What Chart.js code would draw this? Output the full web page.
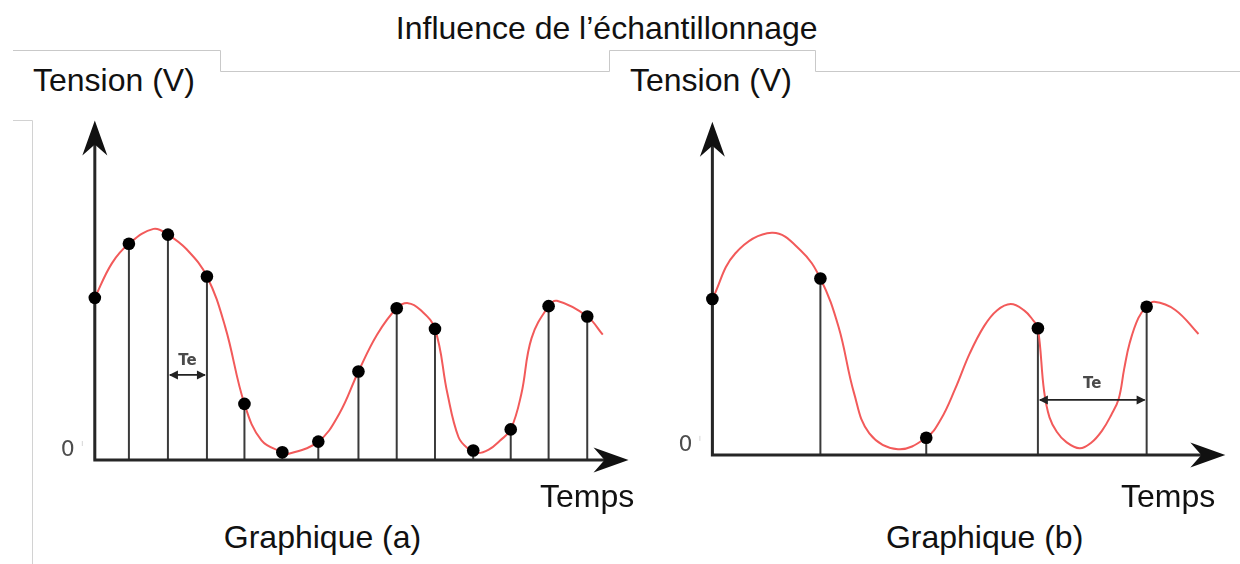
<!DOCTYPE html>
<html>
<head>
<meta charset="utf-8">
<script src="https://cdn.jsdelivr.net/npm/chart.js"></script>
<style>
  html, body { margin:0; padding:0; background:#fff; }
  body { width:1240px; height:564px; overflow:hidden; position:relative; }
  .txt { position:absolute; font-family:"Liberation Sans", Arial, sans-serif; font-size:32px; line-height:32px; color:#111; white-space:nowrap; }
  .ctr { transform:translateX(-50%); }
  .box { position:absolute; }
  svg { position:absolute; left:0; top:0; }
</style>
</head>
<body>
<svg width="1240" height="564">
  <polyline points="13,50.5 220.5,50.5 220.5,71.5 609.5,71.5 609.5,50.5 815.5,50.5 815.5,71.5 1240,71.5" fill="none" stroke="#c9c9c9" stroke-width="1"/>
  <polyline points="13,120.5 32.5,120.5 32.5,564" fill="none" stroke="#d2d2d2" stroke-width="1"/>
</svg>

<div class="txt ctr" style="left:606.7px;top:12.2px;">Influence de l’échantillonnage</div>
<div class="txt" style="left:33px;top:63.9px;">Tension (V)</div>
<div class="txt" style="left:630px;top:63.9px;">Tension (V)</div>

<div class="box" id="boxA"><canvas id="chartA"></canvas></div>
<div class="box" id="boxB"><canvas id="chartB"></canvas></div>

<div class="txt" style="left:540px;top:479.6px;">Temps</div>
<div class="txt" style="left:1121px;top:479.6px;">Temps</div>
<div class="txt ctr" style="left:322.5px;top:521.2px;">Graphique (a)</div>
<div class="txt ctr" style="left:984.6px;top:521.2px;">Graphique (b)</div>

<script>
// ---------------- DATA (time in units, voltage in units) ----------------
// Graphique (a): analog signal (red curve)
const signalTimeA = [0, 0.45, 0.9, 1.55, 1.93, 2.43, 2.96, 3.44, 3.95, 4.4, 4.95, 5.12, 5.9, 6.45, 6.96, 7.45, 7.97, 8.27, 8.6, 8.98, 9.31, 9.6, 9.85, 10.1, 10.4, 10.7, 10.98, 11.26, 11.53, 11.98, 12.2, 13.0, 13.41];
const signalVoltA = [7.05, 8.55, 9.40, 10.05, 9.80, 9.15, 7.98, 5.80, 2.44, 0.85, 0.34, 0.27, 0.80, 2.00, 3.85, 5.45, 6.60, 6.82, 6.52, 5.70, 2.88, 1.00, 0.50, 0.30, 0.45, 0.85, 1.33, 2.87, 5.30, 6.69, 6.92, 6.24, 5.45];
// Graphique (a): fine sampling
const samplesTimeA = [0, 0.9, 1.93, 2.96, 3.95, 4.95, 5.9, 6.96, 7.97, 8.98, 9.99, 10.98, 11.98, 13.0];
const samplesVoltA = [7.05, 9.40, 9.80, 7.98, 2.44, 0.34, 0.80, 3.85, 6.60, 5.70, 0.41, 1.33, 6.69, 6.24];

// Graphique (b): analog signal (red curve)
const signalTimeB = [0, 0.63, 1.64, 2.43, 2.98, 3.48, 3.91, 4.33, 5.12, 5.9, 6.3, 6.7, 7.1, 7.5, 7.85, 8.23, 8.6, 8.85, 8.98, 9.15, 9.3, 9.5, 9.75, 10.13, 10.45, 10.75, 11.0, 11.21, 11.36, 11.51, 11.75, 11.98, 12.19, 12.77, 13.41];
const signalVoltB = [7.07, 9.13, 10.07, 9.28, 8.00, 5.81, 2.79, 0.98, 0.26, 0.78, 1.60, 3.00, 4.60, 5.85, 6.55, 6.84, 6.55, 6.10, 5.74, 2.90, 1.70, 1.05, 0.60, 0.30, 0.55, 1.10, 1.80, 2.55, 3.90, 5.06, 6.20, 6.72, 6.94, 6.57, 5.48];
// Graphique (b): coarse sampling
const samplesTimeB = [0, 2.98, 5.9, 8.98, 11.98];
const samplesVoltB = [7.07, 8.00, 0.78, 5.74, 6.72];

// Te annotations: [from sample index, to sample index]
const teSpanA = [2, 3];
const teSpanB = [3, 4];

// ---------------- LAYOUT ----------------
const layoutA = { x0:94.8, y0:459.5, pxX:37.85, pxY:23.0, xMin:-1.5, xMax:15, yMin:-2, yMax:16, xTip:14.09, yTip:14.76, teV:3.7, teGap:9.5 };
const layoutB = { x0:712.7, y0:455.5, pxX:36.25, pxY:22.08, xMin:-1.5, xMax:14.5, yMin:-2, yMax:16, xTip:14.15, yTip:15.1, teV:2.49, teGap:12 };

const diagramPlugin = {
  id: 'diagram',
  beforeDatasetsDraw(chart, args, opts) {
    const ctx = chart.ctx, xs = chart.scales.x, ys = chart.scales.y;
    const x0 = xs.getPixelForValue(0), y0 = ys.getPixelForValue(0);
    const pts = chart.getDatasetMeta(1).data;
    ctx.save();
    // stems
    ctx.strokeStyle = '#3a3a3a';
    ctx.lineWidth = 2;
    pts.forEach(p => { ctx.beginPath(); ctx.moveTo(p.x, y0); ctx.lineTo(p.x, p.y); ctx.stroke(); });
    // axes
    const xt = xs.getPixelForValue(opts.xTip), yt = ys.getPixelForValue(opts.yTip);
    ctx.strokeStyle = '#262626';
    ctx.lineWidth = 3;
    ctx.beginPath();
    ctx.moveTo(x0, y0 + 1.5); ctx.lineTo(x0, yt + 22);
    ctx.moveTo(x0 - 1.5, y0); ctx.lineTo(xt - 22, y0);
    ctx.stroke();
    ctx.fillStyle = '#111';
    ctx.beginPath();
    ctx.moveTo(x0, yt); ctx.lineTo(x0 + 12.5, yt + 35); ctx.lineTo(x0, yt + 24); ctx.lineTo(x0 - 12.5, yt + 35); ctx.closePath();
    ctx.fill();
    ctx.beginPath();
    ctx.moveTo(xt, y0); ctx.lineTo(xt - 35, y0 + 12.5); ctx.lineTo(xt - 24, y0); ctx.lineTo(xt - 35, y0 - 12.5); ctx.closePath();
    ctx.fill();
    // "0" label
    ctx.fillStyle = '#4d4d4d';
    ctx.font = '22px "DejaVu Sans", sans-serif';
    ctx.textAlign = 'center';
    ctx.textBaseline = 'middle';
    ctx.fillText('0', x0 - 27, y0 - 10);
    ctx.strokeStyle = '#d6d6d6';
    ctx.lineWidth = 1;
    ctx.beginPath(); ctx.moveTo(x0 - 12.5, y0 - 19); ctx.lineTo(x0 - 12.5, y0 - 14); ctx.stroke();
    ctx.restore();
  },
  afterDatasetsDraw(chart, args, opts) {
    const ctx = chart.ctx, ys = chart.scales.y;
    const pts = chart.getDatasetMeta(1).data;
    const xa = pts[opts.te[0]].x, xb = pts[opts.te[1]].x;
    const yy = ys.getPixelForValue(opts.teV);
    ctx.save();
    ctx.strokeStyle = '#222';
    ctx.fillStyle = '#222';
    ctx.lineWidth = 1.8;
    ctx.beginPath(); ctx.moveTo(xa + 2, yy); ctx.lineTo(xb - 2, yy); ctx.stroke();
    ctx.beginPath(); ctx.moveTo(xa + 1, yy); ctx.lineTo(xa + 10, yy - 4.5); ctx.lineTo(xa + 10, yy + 4.5); ctx.closePath(); ctx.fill();
    ctx.beginPath(); ctx.moveTo(xb - 1, yy); ctx.lineTo(xb - 10, yy - 4.5); ctx.lineTo(xb - 10, yy + 4.5); ctx.closePath(); ctx.fill();
    ctx.fillStyle = '#4a4a4a';
    ctx.font = 'bold 15px "DejaVu Sans", sans-serif';
    ctx.textAlign = 'center';
    ctx.textBaseline = 'alphabetic';
    ctx.fillText('Te', (xa + xb) / 2, yy - opts.teGap);
    ctx.restore();
  }
};

function makeChart(canvasId, boxId, L, cT, cV, sT, sV, te) {
  const left = L.x0 + L.xMin * L.pxX;
  const top = L.y0 - L.yMax * L.pxY;
  const w = Math.round((L.xMax - L.xMin) * L.pxX);
  const h = Math.round((L.yMax - L.yMin) * L.pxY);
  const box = document.getElementById(boxId);
  box.style.left = left + 'px';
  box.style.top = top + 'px';
  const cv = document.getElementById(canvasId);
  cv.width = w; cv.height = h;
  cv.style.width = w + 'px'; cv.style.height = h + 'px';

  return new Chart(cv, {
    type: 'scatter',
    data: {
      datasets: [
        {
          label: 'signal',
          data: cT.map((t, i) => ({ x: t, y: cV[i] })),
          showLine: true,
          borderColor: '#f25a5a',
          borderWidth: 2,
          pointRadius: 0,
          cubicInterpolationMode: 'default',
          tension: 0.4,
          fill: false,
          order: 2
        },
        {
          label: 'samples',
          data: sT.map((t, i) => ({ x: t, y: sV[i] })),
          showLine: false,
          pointRadius: 6.3,
          pointBackgroundColor: '#000',
          pointBorderWidth: 0,
          order: 1
        }
      ]
    },
    options: {
      responsive: false,
      animation: false,
      events: [],
      layout: { padding: 0, autoPadding: false },
      scales: {
        x: { type: 'linear', min: L.xMin, max: L.xMax, display: false },
        y: { type: 'linear', min: L.yMin, max: L.yMax, display: false }
      },
      plugins: {
        legend: { display: false },
        tooltip: { enabled: false },
        diagram: { xTip: L.xTip, yTip: L.yTip, te: te, teV: L.teV, teGap: L.teGap }
      }
    },
    plugins: [diagramPlugin]
  });
}

makeChart('chartA', 'boxA', layoutA, signalTimeA, signalVoltA, samplesTimeA, samplesVoltA, teSpanA);
makeChart('chartB', 'boxB', layoutB, signalTimeB, signalVoltB, samplesTimeB, samplesVoltB, teSpanB);
</script>
</body>
</html>
